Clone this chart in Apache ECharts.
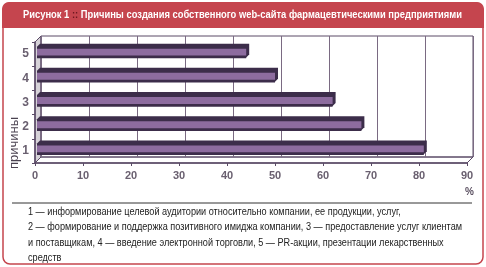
<!DOCTYPE html>
<html>
<head>
<meta charset="utf-8">
<script src="https://cdn.jsdelivr.net/npm/echarts@6/dist/echarts.min.js"></script>
<style>
  html, body { margin: 0; padding: 0; background: #fff; }
  #main { width: 486px; height: 267px; }
</style>
</head>
<body>
<div id="main"></div>
<script>
// данные диаграммы
const categories = ['1', '2', '3', '4', '5'];
const values = [81, 68, 62, 50, 44];
const xTicks = [0, 10, 20, 30, 40, 50, 60, 70, 80, 90];
const yName = 'причины';
const titleLeft = 'Рисунок 1';
const titleRight = 'Причины создания собственного web-сайта фармацевтическими предприятиями';
const notes = [
  '1 — информирование целевой аудитории относительно компании, ее продукции, услуг,',
  '2 — формирование и поддержка позитивного имиджа компании, 3 — предоставление услуг клиентам',
  'и поставщикам, 4 — введение электронной торговли, 5 — PR-акции, презентации лекарственных',
  'средств'
];

const red = '#c5454e';
const font = '"Liberation Sans", Arial, sans-serif';
const DX = 6, DY = 6; // глубина "3D"

// сжатие текста по ширине (узкий шрифт недоступен)
const ctx = document.createElement('canvas').getContext('2d');
function textWidth(t, f) { ctx.font = f; return ctx.measureText(t).width; }
const titleFont = 'bold 10px ' + font;
const noteFont = '10px ' + font;
const titleFull = titleLeft + ' :: ' + titleRight;
const tScale = 439 / textWidth(titleFull, titleFont);
const nScale = 434 / textWidth(notes[1], noteFont);
const tLeftW = textWidth(titleLeft + ' ', titleFont);
const tSqW = textWidth(':: ', titleFont);

var myChart = echarts.init(document.getElementById('main'));

var option = {
  animation: false,
  grid: [
    { left: 41, right: 13, top: 36, bottom: 110 },
    { left: 41 - DX, right: 13 + DX, top: 36 + DY, bottom: 110 - DY }
  ],
  xAxis: [
    {
      gridIndex: 0, type: 'value', min: 0, max: 90, interval: 10,
      axisLine: { show: false }, axisTick: { show: false }, axisLabel: { show: false },
      splitLine: { show: true, lineStyle: { color: '#7a6a82', width: 1 } }
    },
    {
      gridIndex: 1, type: 'value', min: 0, max: 90, interval: 10,
      axisLine: { show: true, lineStyle: { color: '#5a4a66', width: 1.5 } },
      axisTick: { show: true, length: 3, lineStyle: { color: '#5a4a66' } },
      splitLine: { show: false },
      axisLabel: {
        color: '#6a6070', fontSize: 11, fontWeight: 'bold', fontFamily: font, margin: 7,
        customValues: xTicks
      },
      name: '%', nameLocation: 'end', nameGap: 0,
      nameTextStyle: { color: '#5a4f60', fontSize: 10, fontWeight: 'bold', fontFamily: font,
        verticalAlign: 'top', padding: [24, 0, 0, -2] }
    }
  ],
  yAxis: [
    {
      gridIndex: 0, type: 'category', data: categories,
      axisLine: { show: false }, axisTick: { show: false }, axisLabel: { show: false },
      splitLine: { show: false }
    },
    {
      gridIndex: 1, type: 'category', data: categories,
      axisLine: { show: true, lineStyle: { color: '#5a4a66', width: 1.5 } },
      axisTick: { show: true, length: 3, lineStyle: { color: '#5a4a66' } },
      axisLabel: { color: '#6a6070', fontSize: 12, fontWeight: 'bold', fontFamily: font, margin: 6 }
    }
  ],
  series: [
    {
      type: 'custom',
      xAxisIndex: 1, yAxisIndex: 1,
      data: values.map((v, i) => [v, i]),
      z: 5,
      renderItem: function (params, api) {
        var s = api.coord([0, api.value(1)]);
        var e = api.coord([api.value(0), api.value(1)]);
        var h = api.size([0, 1])[1] * 0.45;
        var x0 = s[0] + 2, x1 = e[0], y0 = s[1] - h / 2 - 2, y1 = s[1] + h / 2 - 2;
        var d = 3;
        return {
          type: 'group',
          children: [
            { type: 'polygon', shape: { points: [[x0, y0], [x0 + d, y0 - d], [x1 + d, y0 - d], [x1 + d, y1 - d], [x1, y1], [x0, y1]] },
              style: { fill: '#3c2d4a' } },
            { type: 'rect', shape: { x: x0, y: y0 + 2, width: x1 - x0, height: h - 4 },
              style: { fill: '#8d6c9f' } },
            { type: 'line', shape: { x1: x0, y1: y1, x2: x1, y2: y1 }, style: { stroke: '#3c2d4a', lineWidth: 1.5 } }
          ]
        };
      }
    }
  ],
  graphic: [
    // рамка
    { type: 'rect', shape: { x: 3, y: 3, width: 480, height: 261, r: 7 }, style: { fill: '#fff', stroke: red, lineWidth: 1.5 }, z: -10 },
    { type: 'rect', shape: { x: 2, y: 2, width: 482, height: 26, r: [7, 7, 0, 0] }, style: { fill: red }, z: -9 },
    // заголовок
    {
      type: 'group', x: 23, y: 10, scaleX: tScale,
      children: [
        { type: 'text', x: 0, y: 0, style: { text: titleLeft, fill: '#fff', font: titleFont } },
        { type: 'text', x: tLeftW, y: 0, style: { text: '::', fill: '#6e1820', font: titleFont } },
        { type: 'text', x: tLeftW + tSqW, y: 0, style: { text: titleRight, fill: '#fff', font: titleFont } }
      ]
    },
    // подпись оси Y
    { type: 'text', x: 14, y: 143, rotation: Math.PI / 2,
      style: { text: yName, fill: '#4a4250', font: '13px ' + font, align: 'center', verticalAlign: 'middle' } },
    // левая стенка
    { type: 'polygon', shape: { points: [[35, 42], [41, 36], [41, 157], [35, 163]] }, style: { fill: '#d6d2d8', stroke: '#5a4a66', lineWidth: 1 }, z: -5 },
    // пол
    { type: 'polygon', shape: { points: [[35, 163], [41, 157], [473, 157], [467, 163]] }, style: { fill: '#fff', stroke: '#5a4a66', lineWidth: 1 }, z: -5 },
    { type: 'rect', shape: { x: 41, y: 36, width: 432, height: 121 }, style: { fill: 'none', stroke: '#5a4a66', lineWidth: 1 }, z: -4 },
    { type: 'line', shape: { x1: 12, y1: 203, x2: 472, y2: 203 }, style: { stroke: '#333', lineWidth: 1 } },
    ...notes.map((t, i) => ({
      type: 'text', x: 28, y: 207 + i * 15.5, scaleX: nScale,
      style: { text: t, fill: '#222', font: noteFont }
    }))
  ]
};
myChart.setOption(option);
</script>
</body>
</html>
